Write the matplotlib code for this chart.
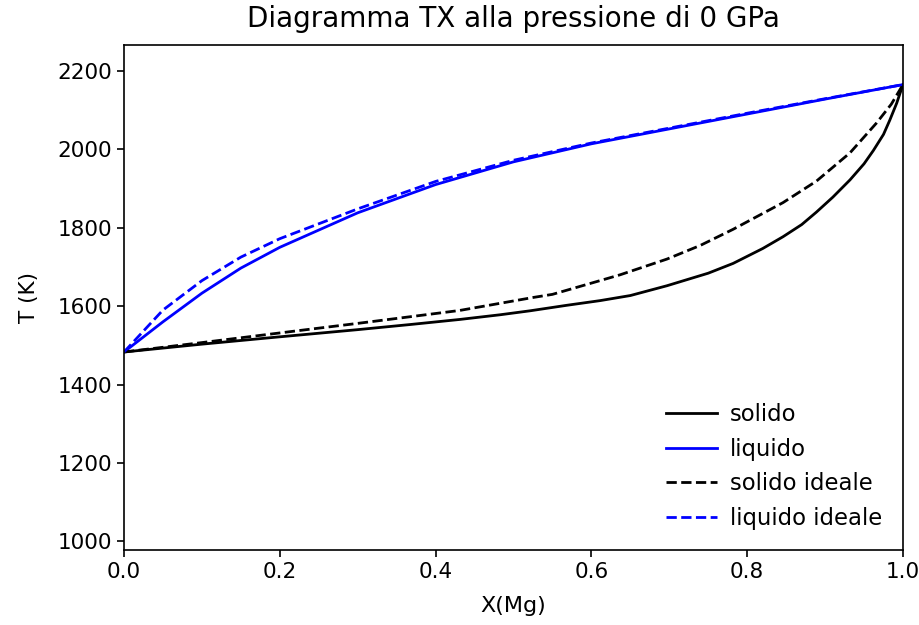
import numpy as np
import matplotlib.pyplot as plt

# composizione X(Mg) e temperature (K)
x_solido = [0.0, 0.1, 0.196, 0.3, 0.367, 0.431, 0.483, 0.521, 0.568, 0.611,
            0.65, 0.697, 0.75, 0.782, 0.82, 0.846, 0.87, 0.889, 0.91, 0.932,
            0.95, 0.962, 0.975, 0.983, 0.992, 1.0]
t_solido = [1483, 1503, 1521, 1540, 1553, 1566, 1578, 1588, 1602, 1614,
            1627, 1652, 1684, 1709, 1747, 1777, 1808, 1840, 1878, 1922,
            1963, 1997, 2038, 2074, 2118, 2165]

x_liquido = [0.0, 0.05, 0.1, 0.15, 0.2, 0.3, 0.4, 0.5, 0.6, 0.7, 0.8, 0.9, 1.0]
t_liquido = [1483, 1560, 1633, 1697, 1750, 1838, 1910, 1968, 2014, 2052,
             2090, 2128, 2165]

x_solido_id = [0.0, 0.1, 0.226, 0.3, 0.431, 0.525, 0.55, 0.611, 0.637, 0.697,
               0.74, 0.782, 0.846, 0.889, 0.932, 0.966, 0.985, 1.0]
t_solido_id = [1483, 1507, 1538, 1556, 1589, 1622, 1630, 1665, 1680, 1720,
               1755, 1796, 1864, 1919, 1991, 2067, 2115, 2165]

x_liquido_id = [0.0, 0.05, 0.1, 0.15, 0.2, 0.3, 0.4, 0.5, 0.6, 0.7, 0.8, 0.9, 1.0]
t_liquido_id = [1483, 1590, 1665, 1725, 1772, 1848, 1918, 1972, 2016, 2054,
                2092, 2129, 2165]

fig = plt.figure(figsize=(9.2, 6.25), dpi=100)
ax = fig.add_axes([0.1348, 0.12, 0.8467, 0.808])

ax.plot(x_solido, t_solido, color='k', lw=2.0, label='solido')
ax.plot(x_liquido, t_liquido, color='b', lw=2.0, label='liquido')
ax.plot(x_solido_id, t_solido_id, color='k', lw=2.0, ls='--', label='solido ideale')
ax.plot(x_liquido_id, t_liquido_id, color='b', lw=2.0, ls='--', label='liquido ideale')

ax.set_xlim(0, 1)
ax.set_ylim(978, 2266)
ax.set_yticks(np.arange(1000, 2201, 200))
ax.tick_params(labelsize=15.5, length=5, width=1.2)
for s in ax.spines.values():
    s.set_linewidth(1.2)

ax.set_xlabel('X(Mg)', fontsize=16, labelpad=10)
ax.set_ylabel('T (K)', fontsize=15.5, labelpad=13)
ax.set_title('Diagramma TX alla pressione di 0 GPa', fontsize=20, pad=13)
ax.legend(loc='lower right', frameon=False, fontsize=16.4,
          handlelength=2.2, handletextpad=0.6)

fig.savefig('out.png', dpi=100)
